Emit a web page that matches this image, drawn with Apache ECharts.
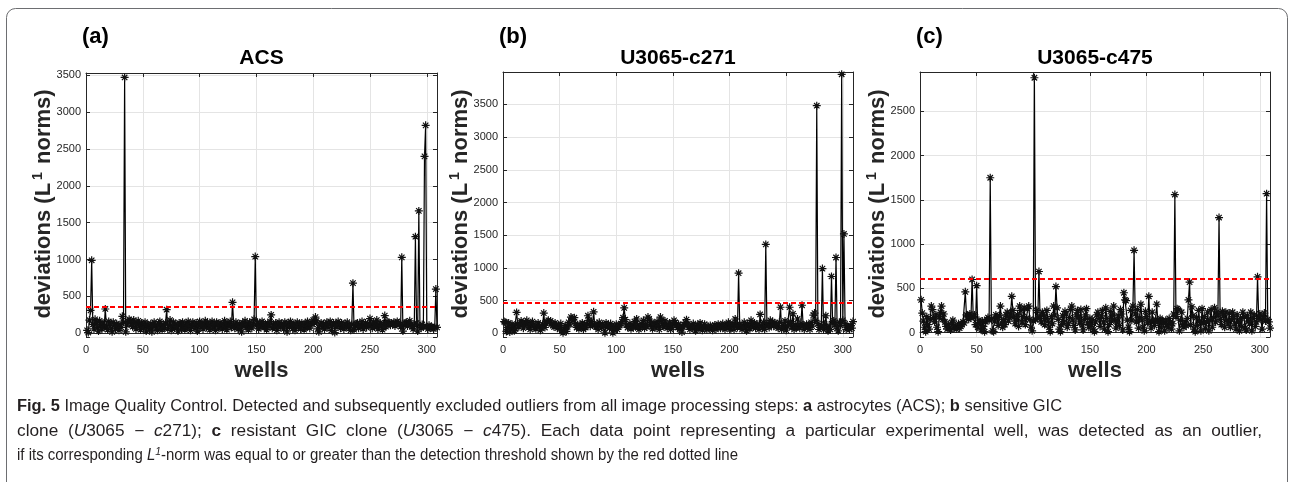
<!DOCTYPE html>
<html>
<head>
<meta charset="utf-8">
<title>Image Quality Control</title>
<script src="https://cdn.jsdelivr.net/npm/echarts@6.0.0/dist/echarts.min.js"></script>
<style>
  html, body { margin: 0; padding: 0; background: #fff; }
  #chart { width: 1290px; height: 482px; }
</style>
</head>
<body>
<div id="chart"></div>
<script>
// deviations (L1 norms) per well
const acsValues = [
  40, 10, 180, 310, 990, 120, 60, 190, 150, 80,
  30, 170, 110, 60, 140, 90, 330, 100, 50, 160,
  130, 70, 20, 150, 110, 60, 130, 90, 40, 120,
  80, 230, 150, 3470, 20, 110, 160, 190, 170, 130,
  90, 180, 140, 60, 120, 170, 100, 50, 140, 110,
  80, 150, 30, 120, 90, 60, 130, 20, 100, 150,
  110, 70, 40, 130, 160, 90, 50, 120, 80, 140,
  320, 60, 110, 180, 40, 100, 150, 70, 120, 90,
  30, 140, 110, 60, 150, 100, 50, 130, 80, 160,
  120, 40, 90, 150, 110, 70, 140, 30, 120, 160,
  90, 130, 60, 110, 170, 80, 140, 100, 50, 130,
  160, 90, 120, 40, 150, 110, 70, 140, 100, 60,
  130, 170, 90, 50, 140, 110, 160, 80, 420, 120,
  70, 150, 100, 60, 130, 90, 20, 140, 110, 170,
  80, 120, 50, 150, 100, 70, 130, 190, 1040, 110,
  150, 60, 120, 90, 160, 140, 80, 110, 50, 130,
  100, 160, 250, 70, 120, 90, 140, 40, 110, 150,
  80, 130, 100, 60, 150, 110, 20, 140, 90, 160,
  120, 70, 130, 40, 100, 150, 90, 120, 60, 140,
  110, 50, 130, 90, 160, 100, 70, 140, 120, 180,
  150, 220, 170, 60, 20, 110, 140, 90, 130, 60,
  100, 150, 80, 120, 160, 40, 110, 140, 10, 130,
  90, 160, 120, 70, 140, 100, 60, 130, 90, 150,
  80, 110, 40, 120, 680, 50, 100, 130, 140, 70,
  120, 90, 160, 60, 110, 140, 80, 130, 100, 200,
  120, 70, 150, 90, 130, 180, 60, 110, 140, 100,
  50, 130, 240, 90, 160, 150, 130, 110, 140, 120,
  150, 100, 130, 160, 140, 120, 90, 1030, 30, 110,
  140, 150, 100, 130, 170, 120, 90, 60, 110, 1310,
  140, 30, 1660, 100, 70, 120, 90, 2400, 2820, 90,
  60, 110, 70, 90, 80, 60, 80, 600, 80
];
const c271Values = [
  180, 170, 30, 90, 160, 20, 60, 140, 110, 40,
  70, 320, 150, 100, 130, 190, 160, 80, 120, 170,
  200, 140, 100, 60, 150, 180, 130, 90, 70, 120,
  160, 110, 50, 80, 140, 310, 90, 150, 180, 200,
  170, 190, 150, 120, 100, 160, 130, 80, 110, 90,
  150, 40, 10, 70, 120, 30, 100, 170, 140, 250,
  230, 210, 240, 150, 90, 110, 70, 130, 100, 160,
  60, 120, 90, 150, 270, 200, 110, 180, 140, 330,
  120, 100, 150, 60, 170, 130, 90, 140, 110, 10,
  160, 100, 130, 80, 150, 110, 10, 70, 90, 140,
  60, 100, 120, 150, 180, 240, 390, 210, 130, 90,
  110, 150, 70, 120, 90, 180, 100, 220, 130, 60,
  90, 150, 110, 200, 80, 140, 100, 250, 220, 130,
  170, 70, 110, 150, 90, 180, 120, 60, 250, 200,
  140, 100, 190, 130, 80, 110, 160, 60, 100, 140,
  200, 170, 120, 90, 140, 60, 110, 20, 100, 130,
  170, 210, 140, 100, 60, 120, 80, 150, 110, 40,
  90, 130, 70, 160, 110, 50, 100, 140, 80, 60,
  110, 70, 120, 90, 50, 100, 130, 60, 90, 140,
  110, 80, 120, 150, 90, 60, 130, 100, 170, 140,
  70, 110, 150, 60, 220, 130, 90, 920, 140, 100,
  60, 120, 170, 90, 40, 150, 110, 70, 200, 130,
  100, 160, 80, 120, 140, 60, 290, 110, 90, 170,
  60, 1360, 120, 150, 90, 200, 130, 180, 110, 160,
  140, 100, 80, 170, 400, 60, 120, 90, 190, 50,
  110, 140, 400, 180, 100, 300, 60, 130, 90, 220,
  110, 80, 150, 430, 120, 60, 100, 140, 90, 130,
  60, 170, 110, 280, 310, 200, 3480, 150, 60, 90,
  120, 990, 60, 140, 270, 90, 40, 110, 60, 870,
  180, 190, 130, 1160, 80, 40, 170, 120, 3960, 200,
  1520, 150, 60, 110, 90, 60, 120, 80, 180
];
const c475Values = [
  370, 220, 130, 60, 10, 180, 90, 40, 150, 300,
  260, 170, 120, 200, 60, 10, 180, 230, 300, 150,
  210, 120, 70, 40, 90, 60, 30, 110, 140, 50,
  80, 40, 60, 100, 50, 70, 90, 120, 110, 460,
  200, 190, 150, 210, 170, 600, 180, 200, 90, 530,
  60, 140, 110, 30, 130, 70, 10, 120, 150, 170,
  140, 1750, 160, 20, 10, 130, 200, 170, 80, 190,
  300, 110, 60, 150, 90, 200, 230, 130, 170, 220,
  410, 250, 180, 100, 140, 200, 70, 300, 250, 120,
  180, 280, 90, 160, 270, 300, 150, 60, 20, 130,
  2880, 150, 250, 160, 690, 180, 120, 230, 200, 90,
  160, 250, 130, 60, 10, 180, 100, 300, 200, 520,
  280, 150, 40, 10, 90, 190, 120, 240, 210, 60,
  100, 170, 260, 300, 140, 80, 30, 200, 250, 180,
  120, 260, 90, 30, 150, 200, 270, 110, 60, 160,
  90, 150, 30, 10, 120, 200, 230, 160, 70, 190,
  250, 120, 40, 280, 160, 10, 90, 240, 130, 200,
  300, 150, 50, 120, 190, 80, 260, 210, 30, 450,
  370, 360, 140, 60, 10, 250, 140, 300, 930, 210,
  120, 260, 50, 170, 320, 140, 60, 20, 240, 180,
  110, 410, 130, 50, 230, 120, 80, 150, 320, 120,
  10, 160, 60, 130, 110, 20, 140, 90, 60, 160,
  120, 40, 100, 210, 1560, 180, 270, 260, 20, 140,
  230, 90, 60, 120, 80, 160, 370, 570, 90, 290,
  190, 40, 10, 170, 80, 250, 130, 20, 270, 110,
  180, 50, 120, 230, 20, 140, 260, 60, 170, 280,
  120, 230, 200, 1300, 150, 90, 240, 190, 60, 230,
  140, 100, 220, 60, 150, 230, 180, 100, 40, 200,
  120, 20, 160, 70, 230, 180, 50, 30, 190, 130,
  100, 230, 20, 160, 200, 70, 120, 630, 180, 210,
  150, 40, 180, 220, 130, 1570, 150, 120, 50
];
const thresholds = [357, 461, 610];
const panelTitles = ['ACS', 'U3065-c271', 'U3065-c475'];
const panelLetters = ['(a)', '(b)', '(c)'];
const wellTicks = [0, 50, 100, 150, 200, 250, 300];

const allValues = [acsValues, c271Values, c475Values];

// plot boxes and axis ranges of the three MATLAB panels
const boxes = [
  { left: 86, top: 73, width: 351, height: 264, yMin: -50, yMax: 3530 },
  { left: 503, top: 72, width: 350, height: 265, yMin: -55, yMax: 3995 },
  { left: 920, top: 72, width: 350, height: 265, yMin: -50, yMax: 2945 }
];

const axisColor = '#262626';
const gridColor = '#e4e4e4';
const asterisk = 'path://M5,0L5,10M0,5L10,5M1.6,1.6L8.4,8.4M1.6,8.4L8.4,1.6';

const myChart = echarts.init(document.getElementById('chart'));

const option = {
  animation: false,
  backgroundColor: '#fff',
  grid: [],
  xAxis: [],
  yAxis: [],
  series: [],
  graphic: []
};

boxes.forEach(function (b, i) {
  option.grid.push({ left: b.left, top: b.top, width: b.width, height: b.height });

  // bottom x axis with labels + grid
  option.xAxis.push({
    gridIndex: i, type: 'value', min: 0, max: 309, interval: 50, position: 'bottom',
    axisLine: { show: true, lineStyle: { color: axisColor, width: 1 } },
    axisTick: { show: true, inside: true, length: 4, lineStyle: { color: axisColor } },
    axisLabel: {
      color: axisColor, fontSize: 11, fontFamily: 'Liberation Sans', margin: 7,
      formatter: function (v) { return wellTicks.indexOf(v) >= 0 ? String(v) : ''; }
    },
    splitLine: { show: true, lineStyle: { color: gridColor, width: 1 } }
  });
  // top x axis (box + ticks only)
  option.xAxis.push({
    gridIndex: i, type: 'value', min: 0, max: 309, interval: 50, position: 'top',
    axisLine: { show: true, onZero: false, lineStyle: { color: axisColor, width: 1 } },
    axisTick: { show: true, inside: true, length: 4, lineStyle: { color: axisColor } },
    axisLabel: { show: false },
    splitLine: { show: false }
  });
  const yLabel = function (v) { return (v >= 0 && v % 500 === 0) ? String(v) : ''; };
  option.yAxis.push({
    gridIndex: i, type: 'value', min: b.yMin, max: b.yMax, minInterval: 500, maxInterval: 500,
    position: 'left',
    axisLine: { show: true, onZero: false, lineStyle: { color: axisColor, width: 1 } },
    axisTick: { show: true, inside: true, length: 4, lineStyle: { color: axisColor } },
    axisLabel: { color: axisColor, fontSize: 11, fontFamily: 'Liberation Sans', margin: 5, formatter: yLabel },
    splitLine: { show: true, lineStyle: { color: gridColor, width: 1 } }
  });
  option.yAxis.push({
    gridIndex: i, type: 'value', min: b.yMin, max: b.yMax, minInterval: 500, maxInterval: 500,
    position: 'right',
    axisLine: { show: true, onZero: false, lineStyle: { color: axisColor, width: 1 } },
    axisTick: { show: true, inside: true, length: 4, lineStyle: { color: axisColor } },
    axisLabel: { show: false },
    splitLine: { show: false }
  });

  option.series.push({
    type: 'line',
    name: panelTitles[i],
    xAxisIndex: 2 * i,
    yAxisIndex: 2 * i,
    data: allValues[i].map(function (v, k) { return [k + 1, v]; }),
    symbol: asterisk,
    symbolSize: 8,
    showSymbol: true,
    lineStyle: { color: '#000', width: 1.2 },
    itemStyle: { color: '#000', borderColor: '#111', borderWidth: 1.2 },
    emphasis: { disabled: true },
    silent: true,
    z: 3,
    markLine: {
      silent: true,
      symbol: ['none', 'none'],
      label: { show: false },
      lineStyle: { color: '#ff0000', type: [5, 3], width: 2 },
      data: [{ yAxis: thresholds[i] }],
      z: 4
    }
  });

  // panel letter
  option.graphic.push({
    type: 'text', x: b.left - 4, y: 37,
    style: { text: panelLetters[i], fontFamily: 'Liberation Sans', fontWeight: 'bold', fontSize: 22,
      fill: '#000', align: 'left', verticalAlign: 'middle' }
  });
  // panel title
  option.graphic.push({
    type: 'text', x: b.left + b.width / 2, y: 58,
    style: { text: panelTitles[i], fontFamily: 'Liberation Sans', fontWeight: 'bold', fontSize: 21,
      fill: '#000', align: 'center', verticalAlign: 'middle' }
  });
  // x axis name
  option.graphic.push({
    type: 'text', x: b.left + b.width / 2, y: 371,
    style: { text: 'wells', fontFamily: 'Liberation Sans', fontWeight: 'bold', fontSize: 22,
      fill: '#262626', align: 'center', verticalAlign: 'middle' }
  });
  // y axis name
  option.graphic.push({
    type: 'text', x: b.left - 42, y: 204, rotation: Math.PI / 2,
    style: {
      text: '{m|deviations (L}{s|1}{m| norms)}',
      align: 'center', verticalAlign: 'middle',
      rich: {
        m: { fontFamily: 'Liberation Sans', fontWeight: 'bold', fontSize: 22, fill: '#262626', lineHeight: 26 },
        s: { fontFamily: 'Liberation Sans', fontWeight: 'bold', fontSize: 14, fill: '#262626', verticalAlign: 'top', lineHeight: 26, padding: [0, 2, 0, 3] }
      }
    }
  });
});

// outer frame
option.graphic.push({
  type: 'rect', z: -10,
  shape: { x: 6.5, y: 8.5, width: 1281, height: 490, r: 9 },
  style: { fill: 'none', stroke: '#6d6e71', lineWidth: 1 }
});

// caption: the journal uses a condensed face, so squeeze a plain sans to the line widths
const capFont = 'Liberation Sans';
const capSize = 16;
const captionLines = [
  '{b|Fig.\u00a05} Image Quality Control. Detected and subsequently excluded outliers from all image processing steps: {b|a} astrocytes (ACS); {b|b} sensitive GIC',
  'clone ({i|U}3065 − {i|c}271); {b|c} resistant GIC clone ({i|U}3065 − {i|c}475). Each data point representing a particular experimental well, was detected as an outlier,',
  'if its corresponding {i|L}{s|1}-norm was equal to or greater than the detection threshold shown by the red dotted line'
];
const captionWidths = [1045, 1245, 721];
const capFonts = {
  t: capSize + 'px "' + capFont + '"',
  b: 'bold ' + capSize + 'px "' + capFont + '"',
  i: 'italic ' + capSize + 'px "' + capFont + '"',
  s: 'italic 11px "' + capFont + '"'
};
const measureCtx = document.createElement('canvas').getContext('2d');
function richWidth(line) {
  let w = 0;
  line.split(/(\{[a-z]+\|[^}]*\})/).forEach(function (part) {
    if (!part) return;
    const m = part.match(/^\{([a-z]+)\|([^}]*)\}$/);
    measureCtx.font = m ? capFonts[m[1]] : capFonts.t;
    w += measureCtx.measureText(m ? m[2] : part).width;
  });
  return w;
}
// lines 1 and 3 are squeezed to their width; the long line 2 gets half
// of its extra width from the glyphs and half from wider word gaps
const fits = captionLines.map(function (l, k) { return captionWidths[k] / richWidth(l); });
const baseFit = (fits[0] + fits[2]) / 2;
const glyphScales = [fits[0], Math.sqrt(fits[1] * baseFit), fits[2]];

const capRich = {
  b: { fontFamily: capFont, fontWeight: 'bold', fontSize: capSize, fill: '#231f20' },
  i: { fontFamily: capFont, fontStyle: 'italic', fontSize: capSize, fill: '#231f20' },
  s: { fontFamily: capFont, fontStyle: 'italic', fontSize: 11, fill: '#231f20', verticalAlign: 'top', lineHeight: 20 }
};
[407, 432, 456].forEach(function (y, k) {
  const words = captionLines[k].split(' ');
  const space = (captionWidths[k] / glyphScales[k] - richWidth(words.join(''))) / (words.length - 1);
  const spKey = 'sp' + k;
  capRich[spKey] = { fontFamily: capFont, fontSize: capSize, width: space };
  option.graphic.push({
    type: 'text', x: 17, y: y, scaleX: glyphScales[k],
    style: {
      text: words.join('{' + spKey + '| }'), fontFamily: capFont, fontSize: capSize, fill: '#231f20',
      align: 'left', verticalAlign: 'middle', rich: capRich
    }
  });
});

myChart.setOption(option);
</script>
</body>
</html>
